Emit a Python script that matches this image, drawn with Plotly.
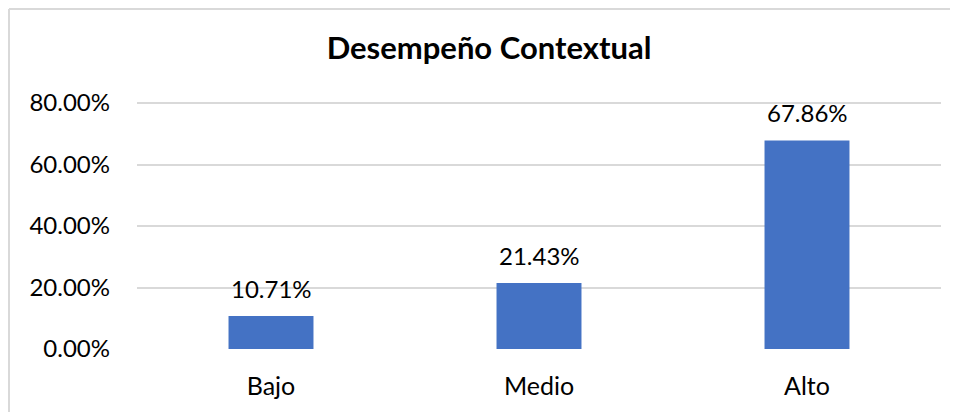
import plotly.graph_objects as go

# Datos del grafico
niveles = ["Bajo", "Medio", "Alto"]
porcentajes = [0.1071, 0.2143, 0.6786]
ticks_y = [0, 0.2, 0.4, 0.6, 0.8]
y_max = 0.81

# la pagina deja 8px de margen en el body, asi que todo se corrige por ese desfase
OFF = 8
W, H = 958 - OFF, 412 - OFF
alto_80 = 246  # pixeles entre 0% y 80%
ml, mr, mb = 137 - OFF, 17, 63
mt = round(103 - OFF - alto_80 * (y_max - 0.8) / 0.8)
pw, ph = W - ml - mr, H - mt - mb

fuente = "Lato, Calibri, sans-serif"
azul = "#4472c4"

fig = go.Figure()
fig.add_trace(go.Bar(x=niveles, y=porcentajes, marker=dict(color=azul, line=dict(width=0)),
                     hoverinfo="skip"))

# etiquetas de datos encima de cada barra
for n, p in zip(niveles, porcentajes):
    fig.add_annotation(x=n, y=p, text=f"{p*100:.2f}%", showarrow=False, yanchor="bottom",
                       yshift=11, font=dict(family=fuente, size=24, color="#000000"))

# borde del area del grafico (izquierda y arriba), en pixeles de pantalla
px = lambda v: (v - OFF - ml) / pw
py = lambda v: (H - mb - (v - OFF)) / ph
fig.add_shape(type="line", xref="paper", yref="paper", x0=px(9), x1=px(970), y0=py(9), y1=py(9),
              line=dict(color="#d9d9d9", width=2))
fig.add_shape(type="line", xref="paper", yref="paper", x0=px(9), x1=px(9), y0=py(9), y1=py(420),
              line=dict(color="#d9d9d9", width=2))

fig.update_layout(
    width=W, height=H,
    margin=dict(l=ml, r=mr, t=mt, b=mb),
    paper_bgcolor="white", plot_bgcolor="white",
    bargap=0.683,
    showlegend=False,
    title=dict(text="<b>Desempeño Contextual</b>", x=(489 - OFF) / W, xanchor="center",
               y=1 - (48 - OFF) / H, yanchor="middle",
               font=dict(family=fuente, size=31, color="#000000")),
    font=dict(family=fuente, size=24, color="#000000"),
)
fig.update_xaxes(showgrid=False, zeroline=False, showline=False, ticks="",
                 ticklabelstandoff=20, tickfont=dict(size=25))
fig.update_yaxes(range=[0, y_max], tickvals=ticks_y, tickformat=".2%", showgrid=True,
                 gridcolor="#d9d9d9", gridwidth=1.5, zeroline=False, showline=False, ticks="",
                 ticklabelstandoff=26, tickfont=dict(size=24))

fig.write_html("out.html")
